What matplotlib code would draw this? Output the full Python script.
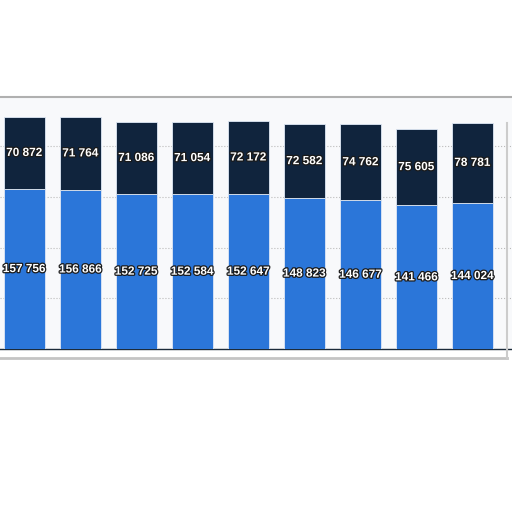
import matplotlib.pyplot as plt
import matplotlib.patheffects as pe

# data (leftmost bar partly cut off)
positions = list(range(9))
lower_vals = [157756, 156866, 152725, 152584, 152647, 148823, 146677, 141466, 144024]
upper_vals = [70872, 71764, 71086, 71054, 72172, 72582, 74762, 75605, 78781]

blue = '#2b76d9'
navy = '#10243d'

fig = plt.figure(figsize=(5.12, 5.12), dpi=100)
fig.patch.set_facecolor('white')
ax = fig.add_axes([0.0, 0.318, 1.0, 0.492])
ax.set_facecolor('#f8f9fb')

b1 = ax.bar(positions, lower_vals, width=0.73, color=blue, zorder=3,
            edgecolor='#dfe8f5', linewidth=0.6)
b2 = ax.bar(positions, upper_vals, width=0.73, bottom=lower_vals, color=navy,
            zorder=3, edgecolor='#dfe8f5', linewidth=0.6)

fmt = lambda v: f'{int(v):,}'.replace(',', ' ')
stroke = [pe.withStroke(linewidth=1.8, foreground='#1a1a1a')]
for bars, vals in ((b1, lower_vals), (b2, upper_vals)):
    txt = ax.bar_label(bars, labels=[fmt(v) for v in vals], label_type='center',
                       color='white', fontsize=8.5, fontweight='bold',
                       family='Liberation Sans', zorder=5)
    for t in txt:
        t.set_path_effects(stroke)

ax.set_xlim(-0.43, 8.71)
ax.set_ylim(0, 248000)
ax.set_yticks([50000, 100000, 150000, 200000])
ax.grid(axis='y', linestyle=':', color='#bbbbbb', linewidth=0.8, zorder=0)
ax.tick_params(length=0, labelbottom=False, labelleft=False)
for s in ['left', 'right']:
    ax.spines[s].set_visible(False)
ax.spines['top'].set_color('#b0b0b0')
ax.spines['top'].set_linewidth(1.5)
ax.spines['bottom'].set_color('#1c2b3a')
ax.spines['bottom'].set_linewidth(1.0)

# outer frame line under the chart
fig.add_artist(plt.Line2D([0.0, 0.99], [0.30, 0.30], color='#c4c4c4', linewidth=2.0))
fig.add_artist(plt.Line2D([0.99, 0.99], [0.30, 0.76], color='#cccccc', linewidth=1.5))

fig.savefig('out.png', dpi=100, facecolor='white')
